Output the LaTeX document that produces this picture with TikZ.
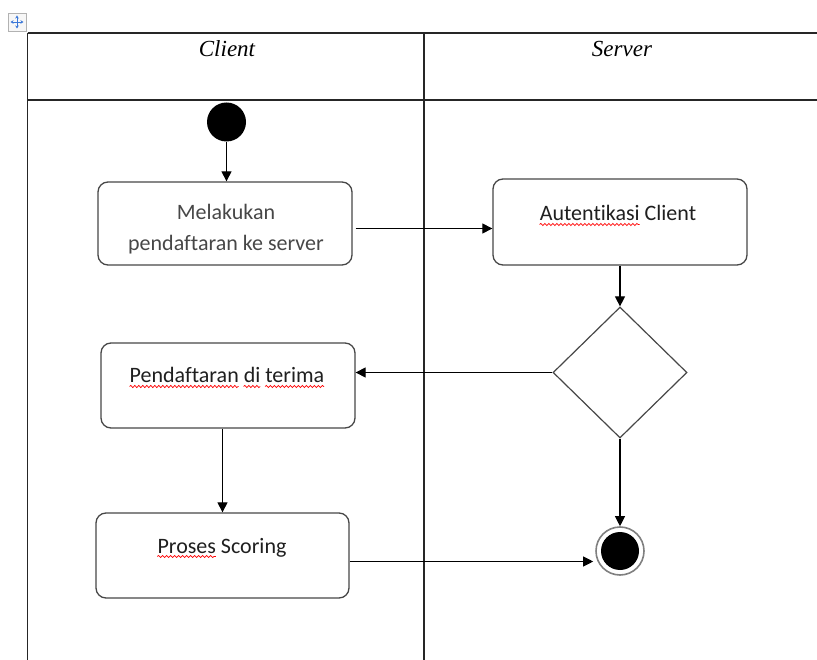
\documentclass[tikz,border=0pt]{standalone}
\usepackage{fontspec}
\setmainfont{Carlito}[Ligatures=NoCommon]
\newfontfamily\hdrfont{Liberation Serif}
\usetikzlibrary{arrows.meta,shapes.geometric,decorations.pathmorphing}
\definecolor{iconblue}{HTML}{3C78D8}
\newcommand\lblfont{\fontsize{22}{31}\selectfont}
\newlength\wA \newlength\wB \newlength\wC \newlength\wD \newlength\wE \newlength\wF \newlength\wG
\begin{document}
\settowidth\wA{\lblfont Autentikasi}%
\settowidth\wB{\lblfont Pendaftaran}%
\settowidth\wC{\lblfont Pendaftaran di}%
\settowidth\wD{\lblfont di}%
\settowidth\wE{\lblfont Pendaftaran di terima}%
\settowidth\wF{\lblfont terima}%
\settowidth\wG{\lblfont Proses}%
\begin{tikzpicture}[x=1pt,y=-1pt,
  tbl/.style={line width=1.4pt,draw=black!85},
  actbox/.style={draw=black!72,line width=1.3pt,rounded corners=10pt,inner sep=0pt},
  lbl/.style={font=\lblfont,text=black!88,inner sep=0pt},
  hdr/.style={font=\hdrfont\itshape\fontsize{23}{27}\selectfont,inner sep=0pt,anchor=base},
  arr/.style={line width=1.1pt,draw=black,-{Triangle[length=10pt,width=10pt]}},
  spellwave/.style={draw=red,line width=0.7pt,decorate,decoration={snake,amplitude=1.1pt,segment length=4pt}}]
\useasboundingbox (0,0) rectangle (817,660);
% move icon
\draw[draw=black!30,fill=black!3,line width=0.6pt] (8,13) rectangle (26,31);
\draw[iconblue,line width=0.9pt,{Stealth[length=3pt,width=3.5pt]}-{Stealth[length=3pt,width=3.5pt]}] (10.5,22) -- (23.5,22);
\draw[iconblue,line width=0.9pt,{Stealth[length=3pt,width=3.5pt]}-{Stealth[length=3pt,width=3.5pt]}] (17,15.5) -- (17,28.5);
% table
\draw[tbl] (27.5,33) -- (817,33);
\draw[tbl] (27.5,100) -- (817,100);
\draw[tbl] (27.5,33) -- (27.5,660);
\draw[tbl] (424,33) -- (424,660);
\node[hdr] (hc) at (227,57) {Client};
\node[hdr] (hs) at (622,57) {Server};
% nodes
\node[circle,fill=black,minimum size=39pt,inner sep=0pt] (s) at (226.5,122) {};
\node[actbox,minimum width=254pt,minimum height=83pt] (b1) at (225,223.5) {};
\node[lbl,text=black!72,align=center] (t1) at (226,229) {Melakukan\\pendaftaran ke server};
\node[actbox,minimum width=254pt,minimum height=86pt] (b2) at (620,222) {};
\node[lbl,anchor=base] (t2) at (618,221) {Autentikasi Client};
\node[diamond,draw=black!72,line width=1.2pt,minimum width=134pt,minimum height=131pt,inner sep=0pt] (d) at (620,372.5) {};
\node[actbox,minimum width=254pt,minimum height=85pt] (b3) at (228,385.5) {};
\node[lbl,anchor=base] (t3) at (227,383) {Pendaftaran di terima};
\node[actbox,minimum width=253pt,minimum height=85pt] (b4) at (222.5,555.5) {};
\node[lbl,anchor=base] (t4) at (222,553) {Proses Scoring};
\node[circle,draw=black!50,line width=1.6pt,minimum size=48pt,inner sep=0pt] (f) at (620,551) {};
\node[circle,fill=black,minimum size=38pt,inner sep=0pt] (fi) at (f.center) {};
% spell-check waves
\draw[spellwave] ([yshift=-3.5pt]t2.base west) -- ([xshift=\wA,yshift=-3.5pt]t2.base west);
\draw[spellwave] ([yshift=-3.5pt]t3.base west) -- ([xshift=\wB,yshift=-3.5pt]t3.base west);
\draw[spellwave] ([xshift=\wC-\wD,yshift=-3.5pt]t3.base west) -- ([xshift=\wC,yshift=-3.5pt]t3.base west);
\draw[spellwave] ([xshift=\wE-\wF,yshift=-3.5pt]t3.base west) -- ([xshift=\wE,yshift=-3.5pt]t3.base west);
\draw[spellwave] ([yshift=-3.5pt]t4.base west) -- ([xshift=\wG,yshift=-3.5pt]t4.base west);
% connectors
\draw[arr] (s) -- (s |- b1.north);
\coordinate (c1) at ([yshift=-5pt]b1.east);
\draw[arr,shorten <=3pt] (c1) -- (c1 -| b2.west);
\draw[arr] (b2.south) -- (d.north);
\draw[arr] (d.west) -- (d.west -| b3.east);
\draw[arr] (b3.south -| b4.north) -- (b4.north);
\draw[arr] (d.south) -- (f.north);
\coordinate (c4) at ([yshift=-6pt]b4.east);
\draw[arr,shorten >=2pt] (c4) -- (c4 -| f.west);
\end{tikzpicture}
\end{document}
